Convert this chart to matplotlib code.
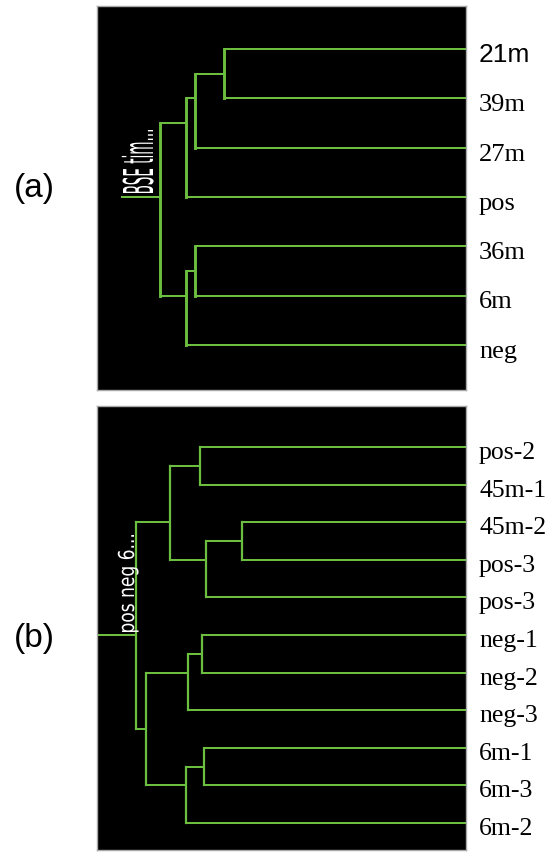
import numpy as np
import matplotlib
matplotlib.use('Agg')
import matplotlib.pyplot as plt
from matplotlib.textpath import TextPath
from matplotlib.patches import PathPatch
from matplotlib.font_manager import FontProperties
from matplotlib.transforms import Affine2D, offset_copy

# ---- data ----
# panel (a): leaf order top->bottom, merges (child1, child2, distance), root stub
leaves_a = ['21m', '39m', '27m', 'pos', '36m', '6m', 'neg']
merges_a = [(0, 1, 242), (7, 2, 271), (8, 3, 280),
            (4, 5, 271), (10, 6, 280), (9, 11, 306)]
root_a = 345
name_a = 'BSE tim...'

# panel (b)
leaves_b = ['pos-2', '45m-1', '45m-2', 'pos-3', 'pos-3', 'neg-1',
            'neg-2', 'neg-3', '6m-1', '6m-3', '6m-2']
merges_b = [(0, 1, 266), (2, 3, 224), (12, 4, 260), (11, 13, 296),
            (5, 6, 264), (15, 7, 278), (8, 9, 262), (17, 10, 280),
            (16, 18, 320), (14, 19, 330)]
root_b = 369
name_b = 'pos neg 6...'

GREEN = '#6cbf3e'
W, H = 553, 852

fig = plt.figure(figsize=(W / 100, H / 100), dpi=100)
fig.patch.set_facecolor('white')


def draw_tree(ax, leaves, merges, root, lw_h, lw_v):
    n = len(leaves)
    ypos = {i: float(i) for i in range(n)}
    hgt = {i: 0.0 for i in range(n)}
    members = {i: [i] for i in range(n)}
    for k, (a, b, h) in enumerate(merges):
        c = n + k
        members[c] = members[a] + members[b]
        ypos[c] = np.mean(members[c])
        for ch in (a, b):
            ax.plot([hgt[ch], h], [ypos[ch], ypos[ch]], color=GREEN,
                    lw=lw_h, solid_capstyle='butt')
        ax.plot([h, h], [ypos[a], ypos[b]], color=GREEN, lw=lw_v,
                solid_capstyle='projecting')
        hgt[c] = h
    top = n + len(merges) - 1
    ax.plot([hgt[top], root], [ypos[top], ypos[top]], color=GREEN,
            lw=lw_h, solid_capstyle='butt')


def setup(ax, leaves, ylim, font, fsize, dy, first_font=None):
    ax.set_facecolor('black')
    ax.set_xlim(369, 0)
    ax.set_ylim(*ylim)
    ax.set_xticks([])
    ax.set_yticks([])
    for s in ax.spines.values():
        s.set_color('#a8a8a8')
        s.set_linewidth(1.0)
    tr = offset_copy(ax.transData, fig=fig, x=0, y=-dy, units='dots')
    for i, lab in enumerate(leaves):
        fam = first_font if (first_font and i == 0) else font
        ax.text(-13, i, lab, transform=tr, ha='left', va='baseline',
                fontsize=fsize, family=fam, color='black', clip_on=False)


def squeezed_label(text, x0, y0, length, cap):
    # vertical white label, reading bottom->top, baseline at pixel x0
    prop = FontProperties(family='DejaVu Sans')
    tp = TextPath((0, 0), text, size=1, prop=prop)
    ext = tp.get_extents()
    capb = TextPath((0, 0), 'B', size=1, prop=prop).get_extents().ymax
    sl = length / (ext.xmax - ext.xmin)
    sh = cap / capb
    m = np.array([[0, -sh, x0],
                  [sl, 0, (H - y0) - ext.xmin * sl],
                  [0, 0, 1]])
    t = Affine2D(m).scale(1 / 100) + fig.dpi_scale_trans
    fig.add_artist(PathPatch(tp, transform=t, facecolor='white',
                             edgecolor='none'))


# panel (a): pixel box x 97..466, y 6..390
ax1 = fig.add_axes([97 / W, 1 - 390 / H, 369 / W, 384 / H])
setup(ax1, leaves_a, ((390 - 49) / 49.3, (6 - 49) / 49.3),
      'Liberation Serif', 19, 13, first_font='Liberation Sans')
draw_tree(ax1, leaves_a, merges_a, root_a, 1.45, 2.1)
squeezed_label(name_a, 153, 193, 63, 30)

# panel (b): pixel box x 97..466, y 406..850
ax2 = fig.add_axes([97 / W, 1 - 850 / H, 369 / W, 444 / H])
setup(ax2, leaves_b, ((850 - 447) / 37.6, (406 - 447) / 37.6),
      'Liberation Serif', 18.5, 12)
draw_tree(ax2, leaves_b, merges_b, root_b, 1.45, 1.6)
squeezed_label(name_b, 134, 632, 97, 16)

fig.text(34 / W, 1 - 189 / H, '(a)', ha='center', va='center',
         fontsize=24, family='Liberation Sans')
fig.text(34 / W, 1 - 638 / H, '(b)', ha='center', va='center',
         fontsize=24, family='Liberation Sans')

fig.savefig('out.png', dpi=100)
